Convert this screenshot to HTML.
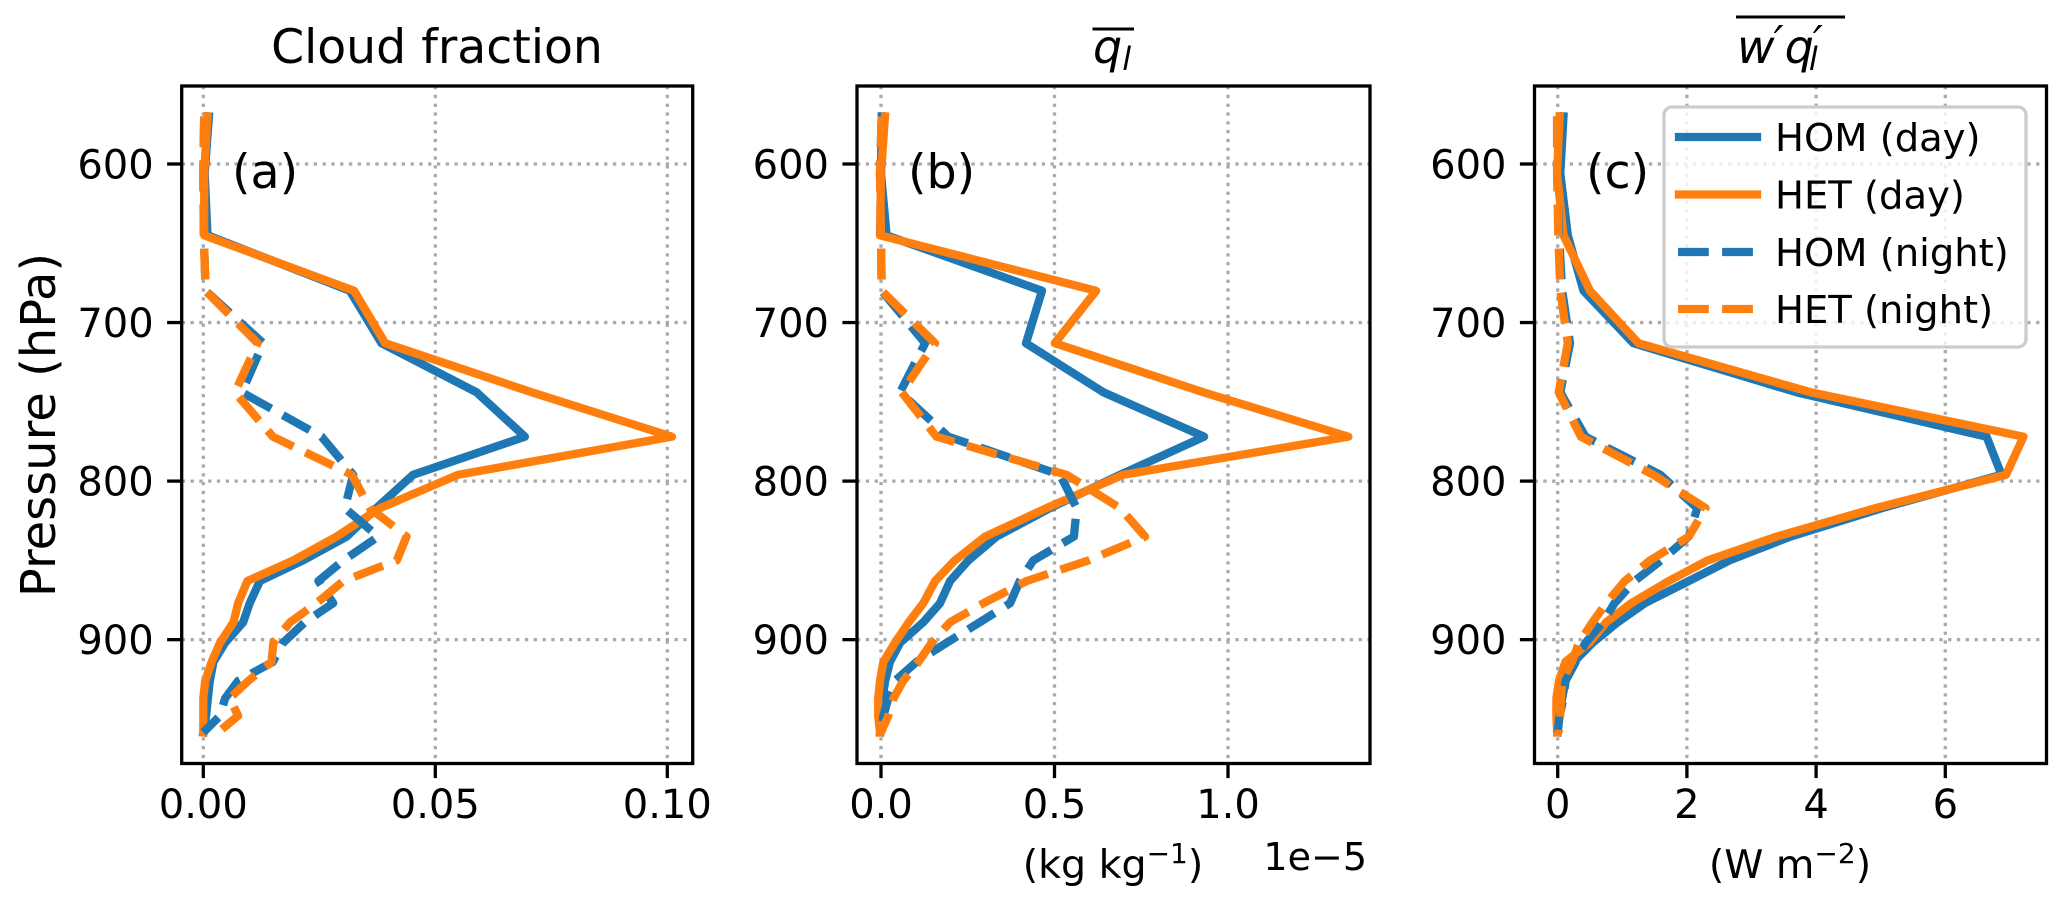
<!DOCTYPE html>
<html>
<head>
<meta charset="utf-8">
<title>Cloud fraction, liquid water and flux profiles</title>
<style>
html,body{margin:0;padding:0;background:#fff;}
svg{display:block;}
text{font-family:"DejaVu Sans","Liberation Sans",sans-serif;fill:#000;}
</style>
</head>
<body>
<svg id="chart" xmlns="http://www.w3.org/2000/svg" width="2067" height="905" viewBox="0 0 2067 905">
<rect x="0" y="0" width="2067" height="905" fill="#fff"/>
<g id="panels"></g>
<text x="437" y="63" font-size="47.3" text-anchor="middle">Cloud fraction</text>
<g>
<line x1="1092.5" x2="1134" y1="29" y2="29" stroke="#000" stroke-width="3"/>
<text x="1093" y="63" font-size="46" font-style="italic">q<tspan font-size="32" dy="7">l</tspan></text>
</g>
<g>
<line x1="1736" x2="1845" y1="17" y2="17" stroke="#000" stroke-width="3"/>
<text x="1737" y="63" font-size="46" font-style="italic">w<tspan font-size="44" dy="-6" dx="-1">′</tspan><tspan dy="6" dx="1">q</tspan><tspan font-size="44" dy="-6" dx="-1">′</tspan><tspan font-size="32" dx="-14" dy="13">l</tspan></text>
</g>
<text transform="translate(55 425) rotate(-90)" font-size="48" text-anchor="middle">Pressure (hPa)</text>
<text x="1113" y="878" font-size="39.5" text-anchor="middle">(kg kg<tspan font-size="28" dy="-15">−1</tspan><tspan dy="15">)</tspan></text>
<text x="1367" y="870" font-size="38" text-anchor="end">1e−5</text>
<text x="1790" y="878" font-size="39.5" text-anchor="middle">(W m<tspan font-size="28" dy="-15">−2</tspan><tspan dy="15">)</tspan></text>
<text x="232" y="188" font-size="47.5">(a)</text>
<text x="908" y="188" font-size="47.5">(b)</text>
<text x="1586" y="188" font-size="47.5">(c)</text>
<g>
<rect x="1664" y="107" width="362" height="240" rx="8" ry="8" fill="#fff" fill-opacity="0.8" stroke="#ccc" stroke-width="3.3"/>
<line x1="1679" x2="1757" y1="137" y2="137" stroke="#1f77b4" stroke-width="8.3" stroke-linecap="square"/>
<text x="1775" y="151" font-size="38.5">HOM (day)</text>
<line x1="1679" x2="1757" y1="194.5" y2="194.5" stroke="#ff7f0e" stroke-width="8.3" stroke-linecap="square"/>
<text x="1775" y="208.5" font-size="38.5">HET (day)</text>
<line x1="1678" x2="1757" y1="252" y2="252" stroke="#1f77b4" stroke-width="8.3" stroke-dasharray="30.8 13.3"/>
<text x="1775" y="266" font-size="38.5">HOM (night)</text>
<line x1="1678" x2="1757" y1="309" y2="309" stroke="#ff7f0e" stroke-width="8.3" stroke-dasharray="30.8 13.3"/>
<text x="1775" y="323" font-size="38.5">HET (night)</text>
</g>
</svg>
<script>
const pressureLevels = [570,606,645,680,713,744,772,796,817,835,850,863,877,889,902,914,926,937,948,958.5];
const pressureTicks = [600,700,800,900];
const pressureTickLabels = ['600','700','800','900'];

const cloudTicks = [0,0.05,0.10];
const cloudTickLabels = ['0.00','0.05','0.10'];
const cloudHomDay = [.0012,.0003,.0009,.0316,.0384,.0589,.0693,.0452,.0373,.0309,.0215,.0122,.0100,.0086,.0047,.0022,.0014,.0010,.0006,0];
const cloudHetDay = [.0009,.0002,.0002,.0325,.0392,.0708,.1010,.0549,.0381,.0287,.0194,.0095,.0075,.0065,.0036,.0018,.0004,0,0,0];
const cloudHomNight = [.0002,0,.0001,.0005,.0129,.0083,.0255,.0323,.0305,.0377,.0302,.0248,.0280,.0219,.0172,.0150,.0075,.0047,.0036,0];
const cloudHetNight = [.0002,0,.0001,.0005,.0117,.0068,.0150,.0320,.0359,.0438,.0417,.0302,.0244,.0187,.0151,.0147,.0097,.0057,.0075,.0032];

const liquidTicks = [0,0.5,1.0];
const liquidTickLabels = ['0.0','0.5','1.0'];
const liquidHomDay = [.002,0,.016,.464,.418,.641,.931,.689,.487,.333,.252,.199,.170,.122,.055,.026,.012,.004,0,-.003];
const liquidHetDay = [.0115,0,-.003,.62,.501,.929,1.347,.698,.477,.30,.213,.156,.122,.08,.04,.007,-.003,-.008,-.008,-.003];
const liquidHomNight = [.002,-.003,0,.002,.127,.055,.194,.516,.564,.556,.439,.40,.372,.285,.189,.103,.04,.021,.007,0];
const liquidHetNight = [.002,-.003,0,.002,.156,.06,.16,.535,.689,.761,.598,.42,.295,.199,.146,.108,.064,.036,.021,0];

const fluxTicks = [0,2,4,6];
const fluxTickLabels = ['0','2','4','6'];
const fluxHomDay = [.09,.04,.157,.40,1.17,3.70,6.64,6.87,5.02,3.60,2.66,2.03,1.35,.93,.54,.25,.12,.07,.02,0];
const fluxHetDay = [.03,-.01,.09,.50,1.25,3.92,7.21,6.94,4.92,3.39,2.32,1.72,1.14,.75,.49,.12,.02,-.02,-.02,-.01];
const fluxHomNight = [-.01,-.01,.02,.07,.19,.04,.43,1.59,2.16,2.03,1.60,1.19,.88,.70,.43,.28,.12,.09,.03,0];
const fluxHetNight = [-.01,-.01,.01,.04,.157,.015,.36,1.48,2.29,2.03,1.43,1.04,.75,.54,.33,.22,.07,.05,.04,.015];

const seriesColors = {homDay:'#1f77b4',hetDay:'#ff7f0e',homNight:'#1f77b4',hetNight:'#ff7f0e'};
const SVGNS = 'http://www.w3.org/2000/svg';
const axesTop = 86;
const axesBottom = 763.5;
const yScale = p => 164 + (p - 600) * 1.5855;

const panelList = [
  {left:181.7,right:692.7,x0:203.3,k:4640,ticks:cloudTicks,labels:cloudTickLabels,hd:cloudHomDay,he:cloudHetDay,nd:cloudHomNight,ne:cloudHetNight},
  {left:857,right:1370,x0:881,k:347,ticks:liquidTicks,labels:liquidTickLabels,hd:liquidHomDay,he:liquidHetDay,nd:liquidHomNight,ne:liquidHetNight},
  {left:1534.5,right:2046.5,x0:1557.7,k:64.6,ticks:fluxTicks,labels:fluxTickLabels,hd:fluxHomDay,he:fluxHetDay,nd:fluxHomNight,ne:fluxHetNight}
];

function mk(tag, attrs, parent) {
  const el = document.createElementNS(SVGNS, tag);
  for (const k in attrs) el.setAttribute(k, attrs[k]);
  parent.appendChild(el);
  return el;
}
function seriesPoints(values, xScale) {
  return values.map((v, i) => xScale(v).toFixed(1) + ',' + yScale(pressureLevels[i]).toFixed(1)).join(' ');
}

const root = document.getElementById('panels');
panelList.forEach(function (panel) {
  const xScale = v => panel.x0 + v * panel.k;
  const g = mk('g', {}, root);
  
  

  panel.ticks.forEach(function (t, i) {
    const x = xScale(t);
    const grid = mk('line', {x1:x,x2:x,y1:axesTop,y2:axesBottom,stroke:'#aaa','stroke-width':3.3,'stroke-dasharray':'3.3 5.5'}, g);
    
    
    const tick = mk('line', {x1:x,x2:x,y1:axesBottom,y2:axesBottom+14.6,stroke:'#000','stroke-width':3.3}, g);
    
    
    const label = mk('text', {x:x,y:818,'font-size':40,'text-anchor':'middle'}, g);
    
    
    label.textContent = panel.labels[i];
  });

  pressureTicks.forEach(function (p, i) {
    const y = yScale(p);
    const grid = mk('line', {x1:panel.left,x2:panel.right,y1:y,y2:y,stroke:'#aaa','stroke-width':3.3,'stroke-dasharray':'3.3 5.5'}, g);
    
    
    const tick = mk('line', {x1:panel.left-14.6,x2:panel.left,y1:y,y2:y,stroke:'#000','stroke-width':3.3}, g);
    
    
    const label = mk('text', {x:panel.left-28,y:y+14.5,'font-size':40,'text-anchor':'end'}, g);
    
    
    label.textContent = pressureTickLabels[i];
  });

  const solidStyle = {fill:'none','stroke-width':8.3,'stroke-linejoin':'round','stroke-linecap':'square'};
  const dashStyle = {fill:'none','stroke-width':8.3,'stroke-linejoin':'round','stroke-linecap':'butt','stroke-dasharray':'30.8 13.3'};

  const homDay = mk('polyline', Object.assign({stroke:seriesColors.homDay,points:seriesPoints(panel.hd,xScale)}, solidStyle), g);
  
  
  const hetDay = mk('polyline', Object.assign({stroke:seriesColors.hetDay,points:seriesPoints(panel.he,xScale)}, solidStyle), g);
  
  
  const homNight = mk('polyline', Object.assign({stroke:seriesColors.homNight,points:seriesPoints(panel.nd,xScale)}, dashStyle), g);
  
  
  const hetNight = mk('polyline', Object.assign({stroke:seriesColors.hetNight,points:seriesPoints(panel.ne,xScale)}, dashStyle), g);
  
  

  const frame = mk('rect', {x:panel.left,y:axesTop,width:panel.right-panel.left,height:axesBottom-axesTop,fill:'none',stroke:'#000','stroke-width':3.3}, g);
  
  
});
</script>
</body>
</html>
